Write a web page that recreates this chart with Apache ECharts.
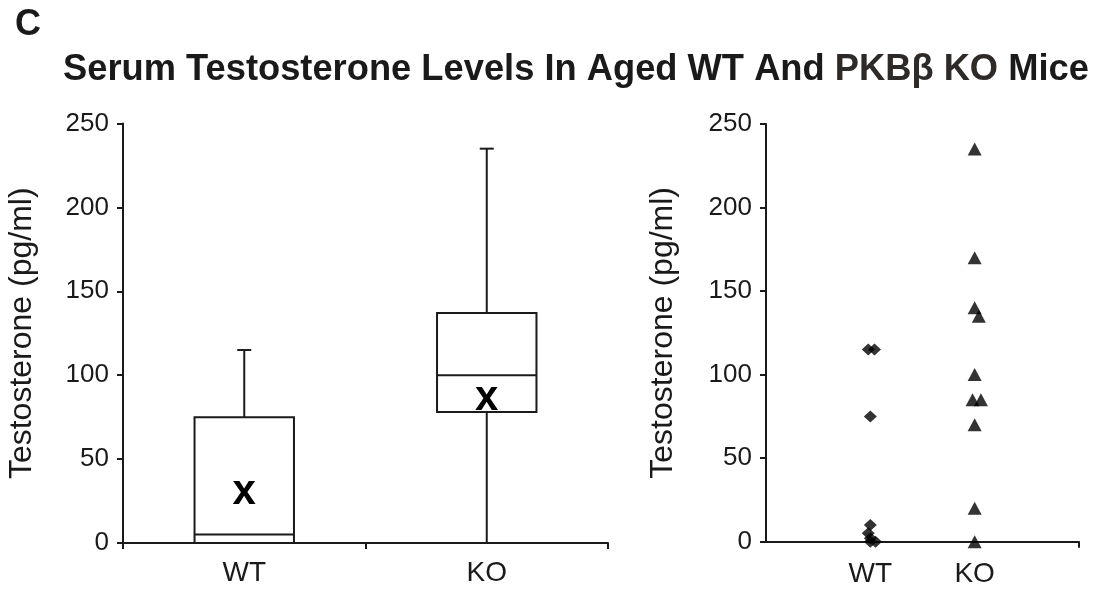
<!DOCTYPE html>
<html>
<head>
<meta charset="utf-8">
<script src="https://cdn.jsdelivr.net/npm/echarts@6/dist/echarts.min.js"></script>
<style>
  html, body { margin: 0; padding: 0; background: #fff; }
  #chart { width: 1097px; height: 589px; }
</style>
</head>
<body>
<div id="chart"></div>
<script>
// ---- data ----
const categories = ['WT', 'KO'];
const boxMin = [0, 0];
const boxQ1 = [0, 78];
const boxMedian = [5, 100];
const boxQ3 = [75, 137];
const boxMax = [115, 235];
const boxMean = [30, 86];
const yTickValues = [0, 50, 100, 150, 200, 250];
const wtValues = [115, 115, 75, 10, 5, 2, 0, 0];
const wtX = [0.98, 1.04, 1, 1, 0.98, 1, 1, 1.05];
const koValues = [235, 170, 140, 135, 100, 85, 85, 70, 20, 0];
const koX = [2, 2, 2, 2.04, 2, 1.98, 2.06, 2, 2, 2];

const ink = '#1a1a1a';
const font = 'Liberation Sans';

const boxData = categories.map((c, i) => [i, boxMin[i], boxQ1[i], boxMedian[i], boxQ3[i], boxMax[i]]);
const meanData = categories.map((c, i) => [i, boxMean[i]]);
const wtData = wtValues.map((v, i) => [wtX[i], v]);
const koData = koValues.map((v, i) => [koX[i], v]);

const yAxisCommon = {
  type: 'value',
  min: yTickValues[0], max: yTickValues[yTickValues.length - 1], interval: 50,
  axisLine: { show: true, lineStyle: { color: ink, width: 2 } },
  axisTick: { show: true, length: 6, lineStyle: { color: ink, width: 2 } },
  axisLabel: { color: ink, fontSize: 26, fontFamily: font, margin: 14 },
  splitLine: { show: false },
  name: 'Testosterone (pg/ml)',
  nameLocation: 'middle',
  nameRotate: 90,
  nameTextStyle: { color: ink, fontSize: 32, fontFamily: font }
};

const chart = echarts.init(document.getElementById('chart'), null, { renderer: 'canvas' });
chart.setOption({
  animation: false,
  backgroundColor: '#fff',
  title: [
    { text: 'C', left: 15, top: 7, padding: 0,
      textStyle: { color: ink, fontSize: 36, fontWeight: 'bold', fontFamily: font } },
    { text: 'Serum Testosterone Levels In Aged WT And {g|PKBβ KO} Mice', left: 63, top: 52, padding: 0,
      textStyle: { color: ink, fontSize: 36.3, fontWeight: 'bold', fontFamily: font,
        rich: { g: { color: '#2e2a28', fontSize: 36.3, fontWeight: 'bold', fontFamily: font } } } }
  ],
  grid: [
    { left: 123, top: 123.5, width: 485, height: 419.5 },
    { left: 766, top: 124, width: 313, height: 417.7 }
  ],
  xAxis: [
    { gridIndex: 0, type: 'category', data: categories, boundaryGap: true,
      axisLine: { lineStyle: { color: ink, width: 2 } },
      axisTick: { show: true, length: 6, lineStyle: { color: ink, width: 2 } },
      axisLabel: { color: ink, fontSize: 28, fontFamily: font, margin: 16 },
      splitLine: { show: false } },
    { gridIndex: 1, type: 'value', min: 0, max: 3, interval: 1,
      axisLine: { show: true, lineStyle: { color: ink, width: 2 } },
      axisTick: { show: true, length: 6, customValues: [3], lineStyle: { color: ink, width: 2 } },
      axisLabel: { color: ink, fontSize: 28, fontFamily: font, margin: 19, customValues: [1, 2],
        formatter: v => categories[Math.round(v) - 1] || '' },
      splitLine: { show: false } }
  ],
  yAxis: [
    Object.assign({}, yAxisCommon, { gridIndex: 0, nameGap: 85 }),
    Object.assign({}, yAxisCommon, { gridIndex: 1, nameGap: 87 })
  ],
  series: [
    {
      type: 'custom', xAxisIndex: 0, yAxisIndex: 0,
      data: boxData,
      encode: { x: 0, y: [1, 2, 3, 4, 5] },
      renderItem: function (params, api) {
        const i = api.value(0);
        const w = api.size([1, 0])[0] * 0.41;
        const cap = 14;
        const pMin = api.coord([i, api.value(1)]);
        const pQ1 = api.coord([i, api.value(2)]);
        const pMed = api.coord([i, api.value(3)]);
        const pQ3 = api.coord([i, api.value(4)]);
        const pMax = api.coord([i, api.value(5)]);
        const x = pMed[0];
        const ls = { stroke: ink, lineWidth: 2 };
        return {
          type: 'group',
          children: [
            { type: 'line', shape: { x1: x, y1: pQ3[1], x2: x, y2: pMax[1] }, style: ls },
            { type: 'line', shape: { x1: x - cap / 2, y1: pMax[1], x2: x + cap / 2, y2: pMax[1] }, style: ls },
            { type: 'line', shape: { x1: x, y1: pQ1[1], x2: x, y2: pMin[1] }, style: ls },
            { type: 'line', shape: { x1: x - cap / 2, y1: pMin[1], x2: x + cap / 2, y2: pMin[1] }, style: ls },
            { type: 'rect', shape: { x: x - w / 2, y: pQ3[1], width: w, height: pQ1[1] - pQ3[1] },
              style: { stroke: ink, lineWidth: 2, fill: '#fff' } },
            { type: 'line', shape: { x1: x - w / 2, y1: pMed[1], x2: x + w / 2, y2: pMed[1] }, style: ls }
          ]
        };
      },
      z: 1
    },
    {
      type: 'custom', xAxisIndex: 0, yAxisIndex: 0,
      data: meanData,
      encode: { x: 0, y: 1 },
      renderItem: function (params, api) {
        const p = api.coord([api.value(0), api.value(1)]);
        return {
          type: 'text',
          x: p[0], y: p[1],
          style: { text: 'x', fill: '#000', font: 'bold 42px "Liberation Sans"',
            align: 'center', verticalAlign: 'middle' }
        };
      },
      z: 3
    },
    {
      type: 'scatter', xAxisIndex: 1, yAxisIndex: 1,
      data: wtData, symbol: 'diamond', symbolSize: [13, 12],
      itemStyle: { color: '#000' }, z: 4
    },
    {
      type: 'scatter', xAxisIndex: 1, yAxisIndex: 1,
      data: koData, symbol: 'triangle', symbolSize: [14, 13],
      itemStyle: { color: '#000' }, z: 4
    }
  ]
});
</script>
</body>
</html>
